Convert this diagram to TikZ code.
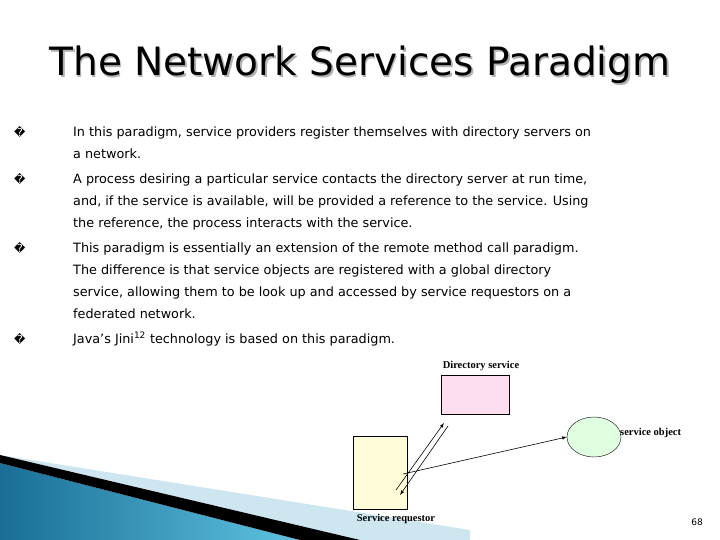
\documentclass[tikz,border=0pt]{standalone}
\usepackage{fontspec}
\usetikzlibrary{shapes.geometric}
\setmainfont{DejaVu Sans}
\newfontfamily\serifx{Liberation Serif}
\definecolor{tealA}{RGB}{25,110,150}
\definecolor{tealB}{RGB}{95,195,225}
\definecolor{paleB}{RGB}{205,230,240}
\begin{document}
\begin{tikzpicture}[x=1pt,y=-1pt,
  body/.style={anchor=base west,inner sep=0,font=\fontsize{12.8}{14}\selectfont},
  bul/.style={anchor=base west,inner sep=0,font=\fontsize{11}{13}\selectfont},
  lab/.style={inner sep=0,font=\serifx\bfseries\fontsize{10.5}{12}\selectfont},
  box/.style={draw=black,line width=0.4pt},
  arr/.style={-latex,line width=0.6pt}]
\useasboundingbox (0,0) rectangle (720,540);
% swoosh
\fill[paleB] (0,455) -- (470,530) -- (470,540) -- (360,540) -- cycle;
\shade[left color=tealA,right color=tealB] (0,463) -- (300,540) -- (0,540) -- cycle;
\fill[black] (0,455) -- (360,540) -- (300,540) -- (0,463) -- cycle;
% title
\node[inner sep=0,font=\fontsize{39}{42}\selectfont,text=gray!60] (shadow) at (361.5,66.5) {The Network Services Paradigm};
\node[inner sep=0,font=\fontsize{39}{42}\selectfont] (title) at (360,65) {The Network Services Paradigm};
% bullets
\foreach \y/\n in {137/b1,184/b2,252/b3,343/b4}{\node[bul] (\n) at (14,\y) {\symbol{"FFFD}};}
\node[body] (t1) at (73,137) {In this paradigm, service providers register themselves with directory servers on};
\node[body] (t1b) at (73,159) {a network.};
\node[body] (t2) at (73,184) {A process desiring a particular service contacts the directory server at run time,};
\node[body] (t2b) at (73,206) {and, if the service is available, will be provided a reference to the service.  Using};
\node[body] (t2c) at (73,228) {the reference, the process interacts with the service.};
\node[body] (t3) at (73,252) {This paradigm is essentially an extension of the remote method call paradigm.};
\node[body] (t3b) at (73,274) {The difference is that service objects are registered with a global directory};
\node[body] (t3c) at (73,296) {service, allowing them to be look up and accessed by service requestors on a};
\node[body] (t3d) at (73,318) {federated network.};
\node[body] (t4) at (73,343) {Java’s Jini\textsuperscript{12} technology is based on this paradigm.};
% diagram
\node[box,fill=magenta!13,minimum width=68pt,minimum height=39pt,inner sep=0] (dir) at (475,395) {};
\node[box,fill=yellow!15,minimum width=54pt,minimum height=73pt,inner sep=0] (req) at (380,473) {};
\node[box,ellipse,fill=green!12,minimum width=54pt,minimum height=40pt,inner sep=0] (obj) at (594,437) {};
\node[lab] (ldir) at (481,366) {Directory service};
\node[lab,anchor=west] (lobj) at (620,433) {service object};
\node[lab] (lreq) at (396,519) {Service requestor};
\coordinate (a1) at (396,490);
\coordinate (a2) at (444,423);
\coordinate (b1) at (448,426);
\coordinate (b2) at (400,495);
\coordinate (c1) at (403,474);
\draw[arr] (a1) -- (a2);
\draw[arr] (b1) -- (b2);
\draw[arr] (c1) -- (obj.west);
\node[inner sep=0,font=\fontsize{9}{10}\selectfont] (pg) at (697,522) {68};
\end{tikzpicture}
\end{document}
